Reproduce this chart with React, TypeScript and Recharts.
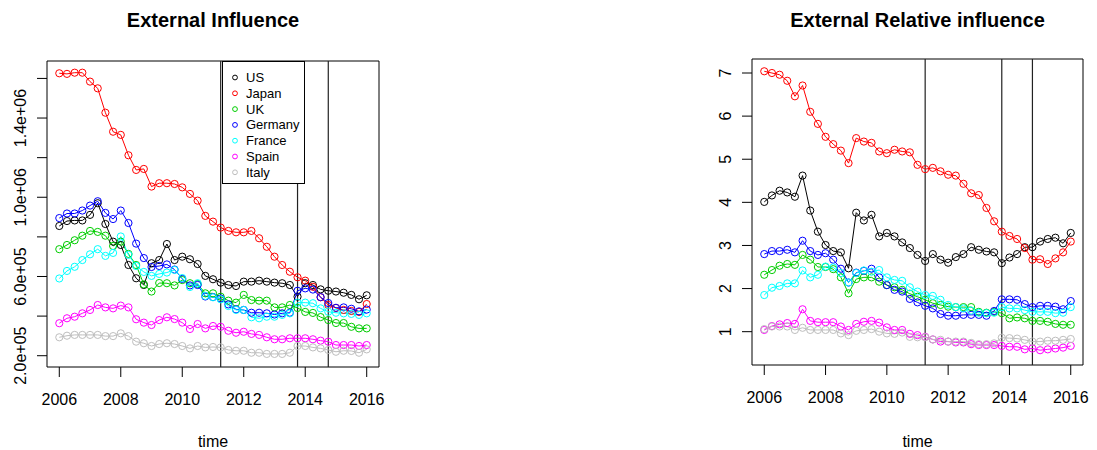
import { Line, LineChart, ReferenceArea, ReferenceLine, XAxis, YAxis } from "recharts";

const FONT = '"Liberation Sans", Arial, sans-serif';

const time = [
  2006, 2006.25, 2006.5, 2006.75, 2007, 2007.25, 2007.5, 2007.75, 2008, 2008.25, 2008.5,
  2008.75, 2009, 2009.25, 2009.5, 2009.75, 2010, 2010.25, 2010.5, 2010.75, 2011, 2011.25,
  2011.5, 2011.75, 2012, 2012.25, 2012.5, 2012.75, 2013, 2013.25, 2013.5, 2013.75, 2014,
  2014.25, 2014.5, 2014.75, 2015, 2015.25, 2015.5, 2015.75, 2016,
];

const countries = ["US", "Japan", "UK", "Germany", "France", "Spain", "Italy"];
const colors = ["#000000", "#FF0000", "#00CD00", "#0000FF", "#00FFFF", "#FF00FF", "#BEBEBE"];

// External Influence
const usInfluence = [855000, 880000, 883000, 883000, 911000, 970000, 865000, 776000, 759000, 658000, 591000, 557000, 667000, 683000, 764000, 683000, 700000, 687000, 663000, 603000, 586000, 569000, 557000, 552000, 574000, 574000, 579000, 574000, 569000, 566000, 557000, 498000, 566000, 557000, 535000, 528000, 524000, 518000, 507000, 485000, 505000];
const japanInfluence = [1626000, 1623000, 1629000, 1629000, 1584000, 1550000, 1427000, 1331000, 1315000, 1212000, 1138000, 1143000, 1054000, 1071000, 1071000, 1067000, 1050000, 1017000, 983000, 906000, 877000, 847000, 830000, 823000, 823000, 830000, 793000, 750000, 700000, 658000, 624000, 596000, 579000, 548000, 495000, 456000, 441000, 431000, 426000, 421000, 461000];
const ukInfluence = [738000, 759000, 783000, 806000, 830000, 825000, 806000, 754000, 776000, 714000, 658000, 560000, 524000, 567000, 566000, 555000, 582000, 566000, 562000, 515000, 515000, 498000, 478000, 468000, 507000, 481000, 478000, 478000, 444000, 444000, 456000, 441000, 421000, 416000, 395000, 380000, 365000, 365000, 346000, 338000, 338000];
const germanyInfluence = [895000, 918000, 918000, 933000, 958000, 980000, 921000, 890000, 933000, 870000, 766000, 693000, 648000, 653000, 661000, 635000, 588000, 555000, 557000, 499000, 496000, 489000, 459000, 434000, 431000, 417000, 417000, 414000, 408000, 414000, 417000, 528000, 540000, 534000, 496000, 466000, 442000, 444000, 437000, 424000, 433000];
const franceInfluence = [590000, 628000, 649000, 683000, 712000, 738000, 704000, 719000, 802000, 709000, 653000, 623000, 603000, 613000, 620000, 633000, 592000, 547000, 566000, 502000, 495000, 485000, 451000, 431000, 431000, 394000, 389000, 397000, 397000, 406000, 414000, 468000, 468000, 465000, 439000, 422000, 417000, 414000, 411000, 406000, 414000];
const spainInfluence = [364000, 389000, 397000, 414000, 431000, 456000, 444000, 439000, 453000, 444000, 384000, 367000, 355000, 380000, 394000, 385000, 367000, 335000, 360000, 338000, 350000, 346000, 326000, 316000, 321000, 310000, 305000, 293000, 283000, 283000, 288000, 288000, 288000, 283000, 276000, 271000, 254000, 254000, 254000, 249000, 254000];
const italyInfluence = [293000, 301000, 305000, 305000, 305000, 305000, 299000, 299000, 313000, 299000, 271000, 263000, 249000, 259000, 263000, 259000, 249000, 237000, 249000, 242000, 244000, 242000, 229000, 225000, 225000, 215000, 215000, 209000, 209000, 209000, 215000, 249000, 249000, 242000, 237000, 229000, 220000, 225000, 224000, 215000, 232000];

// External Relative influence
const usRelative = [4.01, 4.16, 4.27, 4.23, 4.13, 4.62, 3.81, 3.32, 3.01, 2.87, 2.84, 2.47, 3.76, 3.58, 3.71, 3.21, 3.29, 3.21, 3.07, 2.94, 2.78, 2.64, 2.8, 2.67, 2.6, 2.73, 2.8, 2.96, 2.9, 2.86, 2.84, 2.59, 2.72, 2.8, 2.96, 2.96, 3.09, 3.15, 3.18, 3.05, 3.29];
const japanRelative = [7.04, 7.0, 6.96, 6.82, 6.46, 6.71, 6.1, 5.82, 5.52, 5.35, 5.2, 4.91, 5.49, 5.41, 5.38, 5.18, 5.14, 5.22, 5.18, 5.16, 4.87, 4.77, 4.8, 4.72, 4.64, 4.62, 4.43, 4.21, 4.17, 3.87, 3.56, 3.32, 3.22, 3.15, 2.94, 2.67, 2.68, 2.57, 2.7, 2.84, 3.09];
const ukRelative = [2.32, 2.43, 2.53, 2.57, 2.55, 2.78, 2.67, 2.5, 2.5, 2.45, 2.26, 1.89, 2.22, 2.26, 2.26, 2.16, 2.08, 2.03, 1.97, 1.88, 1.81, 1.74, 1.66, 1.62, 1.58, 1.57, 1.57, 1.57, 1.46, 1.44, 1.46, 1.43, 1.31, 1.33, 1.31, 1.25, 1.25, 1.23, 1.18, 1.16, 1.16];
const germanyRelative = [2.8, 2.87, 2.87, 2.9, 2.84, 3.11, 2.87, 2.78, 2.82, 2.67, 2.46, 2.14, 2.37, 2.41, 2.46, 2.26, 2.08, 1.97, 1.93, 1.76, 1.68, 1.6, 1.54, 1.41, 1.37, 1.37, 1.39, 1.39, 1.39, 1.37, 1.48, 1.75, 1.75, 1.74, 1.64, 1.57, 1.6, 1.6, 1.58, 1.52, 1.71];
const franceRelative = [1.85, 2.02, 2.06, 2.12, 2.12, 2.42, 2.26, 2.32, 2.51, 2.49, 2.36, 2.14, 2.36, 2.42, 2.39, 2.43, 2.26, 2.2, 2.18, 2.03, 1.93, 1.85, 1.83, 1.74, 1.62, 1.57, 1.54, 1.49, 1.44, 1.43, 1.44, 1.57, 1.54, 1.54, 1.5, 1.46, 1.46, 1.46, 1.43, 1.44, 1.57];
const spainRelative = [1.04, 1.13, 1.17, 1.2, 1.18, 1.52, 1.25, 1.22, 1.22, 1.22, 1.12, 1.04, 1.18, 1.23, 1.25, 1.21, 1.1, 1.04, 1.04, 0.95, 0.92, 0.88, 0.82, 0.77, 0.77, 0.75, 0.75, 0.71, 0.69, 0.69, 0.69, 0.67, 0.65, 0.65, 0.59, 0.61, 0.57, 0.59, 0.61, 0.63, 0.67];
const italyRelative = [1.06, 1.12, 1.12, 1.12, 1.04, 1.09, 1.04, 1.04, 1.04, 1.04, 0.96, 0.92, 1.02, 1.04, 1.06, 1.0, 0.96, 0.95, 0.98, 0.88, 0.87, 0.87, 0.82, 0.81, 0.77, 0.77, 0.77, 0.74, 0.71, 0.71, 0.73, 0.86, 0.85, 0.84, 0.81, 0.77, 0.77, 0.79, 0.79, 0.81, 0.83];

const breaks = [2011.25, 2013.75, 2014.75];
const yearTicks = [2006, 2008, 2010, 2012, 2014, 2016];
const influenceTicks = [200000, 400000, 600000, 800000, 1000000, 1200000, 1400000, 1600000];
const influenceLabelled = [200000, 600000, 1000000, 1400000];
const relativeTicks = [1, 2, 3, 4, 5, 6, 7];

const xDomain: [number, number] = [2005.6, 2016.4];

function toRows(series: number[][]) {
  return time.map((t, i) => {
    const row: Record<string, number> = { t };
    countries.forEach((c, k) => {
      row[c] = series[k][i];
    });
    return row;
  });
}

const influenceRows = toRows([usInfluence, japanInfluence, ukInfluence, germanyInfluence, franceInfluence, spainInfluence, italyInfluence]);
const relativeRows = toRows([usRelative, japanRelative, ukRelative, germanyRelative, franceRelative, spainRelative, italyRelative]);

// R style: 2.0e+05
function sci(v: number) {
  const [m, e] = v.toExponential(1).split("e");
  return `${m}e${e[0]}${e.slice(1).padStart(2, "0")}`;
}

function RotatedTick(props: any) {
  const { x, y, payload, format, show } = props;
  if (show && !show.includes(payload.value)) return <g />;
  const bx = x - 11;
  return (
    <text
      x={bx}
      y={y}
      transform={`rotate(-90, ${bx}, ${y})`}
      textAnchor="middle"
      fontSize={16}
      fontFamily={FONT}
      fill="#000"
    >
      {format(payload.value)}
    </text>
  );
}

function Legend() {
  return (
    <div
      style={{
        position: "absolute",
        left: 222,
        top: 61,
        width: 83,
        height: 123,
        border: "1px solid #000",
        boxSizing: "border-box",
        background: "#fff",
      }}
    >
      <svg width={83} height={123} style={{ display: "block" }}>
        {countries.map((c, k) => (
          <g key={c}>
            <circle cx={12} cy={15.5 + k * 15.8} r={2.4} fill="none" stroke={colors[k]} strokeWidth={1} />
            <text x={23} y={15.5 + k * 15.8} dominantBaseline="central" fontSize={13} fontFamily={FONT} fill="#000">
              {c}
            </text>
          </g>
        ))}
      </svg>
    </div>
  );
}

interface PanelProps {
  title: string;
  rows: Record<string, number>[];
  left: number;
  width: number;
  top: number;
  right: number;
  yDomain: [number, number];
  yTicks: number[];
  yFormat: (v: number) => string;
  yShow?: number[];
  legend?: boolean;
}

function Panel({ title, rows, left, width, top, right, yDomain, yTicks, yFormat, yShow, legend }: PanelProps) {
  const plotLeft = 47;
  const plotCenter = (plotLeft + width - right) / 2;
  return (
    <div style={{ position: "absolute", left, top: 0, width, height: 450 }}>
      <div
        style={{
          position: "absolute",
          left: plotCenter - 200,
          width: 400,
          top: 8,
          textAlign: "center",
          fontFamily: FONT,
          fontWeight: "bold",
          fontSize: 20,
          lineHeight: "24px",
        }}
      >
        {title}
      </div>
      <LineChart width={width} height={450} data={rows} margin={{ top, right, bottom: 0, left: 0 }}>
        <XAxis
          dataKey="t"
          type="number"
          domain={xDomain}
          ticks={yearTicks}
          allowDataOverflow
          axisLine={false}
          tickLine={{ stroke: "#000" }}
          tickSize={10}
          tickMargin={17}
          height={450 - top - 306}
          tick={{ fontSize: 16, fill: "#000", fontFamily: FONT }}
          label={{ value: "time", position: "insideBottom", offset: 3, fontSize: 16, fill: "#000", fontFamily: FONT }}
        />
        <YAxis
          type="number"
          domain={yDomain}
          ticks={yTicks}
          allowDataOverflow
          width={plotLeft}
          axisLine={false}
          tickLine={{ stroke: "#000" }}
          tickSize={10}
          tickMargin={0}
          tick={(p: any) => <RotatedTick {...p} format={yFormat} show={yShow} />}
        />
        {breaks.map((b) => (
          <ReferenceLine key={b} x={b} stroke="#222" strokeWidth={1.2} />
        ))}
        {countries.map((c, k) => (
          <Line
            key={c}
            dataKey={c}
            type="linear"
            stroke={colors[k]}
            strokeWidth={1}
            dot={{ r: 3.6, fill: "none", stroke: colors[k], strokeWidth: 1 }}
            activeDot={false}
            isAnimationActive={false}
          />
        ))}
        <ReferenceArea
          x1={xDomain[0]}
          x2={xDomain[1]}
          y1={yDomain[0]}
          y2={yDomain[1]}
          fill="none"
          stroke="#000"
          strokeWidth={1}
          ifOverflow="visible"
        />
      </LineChart>
      {legend && <Legend />}
    </div>
  );
}

export default function App() {
  return (
    <div style={{ position: "absolute", left: 0, top: 0, width: 1097, height: 450, background: "#fff" }}>
      <Panel
        title="External Influence"
        rows={influenceRows}
        left={0}
        width={400}
        top={61}
        right={21}
        yDomain={[143000, 1688000]}
        yTicks={influenceTicks}
        yFormat={sci}
        yShow={influenceLabelled}
        legend
      />
      <Panel
        title="External Relative influence"
        rows={relativeRows}
        left={705}
        width={392}
        top={59}
        right={14}
        yDomain={[0.227, 7.325]}
        yTicks={relativeTicks}
        yFormat={(v) => String(v)}
      />
    </div>
  );
}
